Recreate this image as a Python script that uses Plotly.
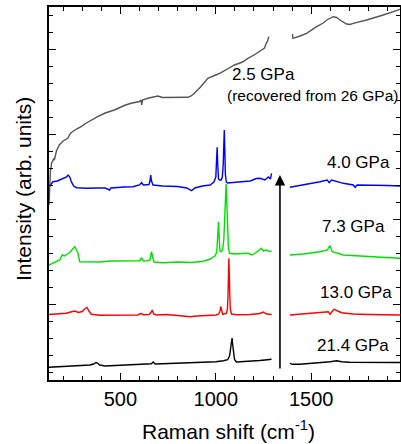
import plotly.graph_objects as go

# ---------------- data (Raman shift in cm^-1, intensity in arb. units, stacked offsets) -------------
x_214 = [126, 160, 200, 250, 300, 340, 360, 372, 380, 392, 420, 460, 520, 580, 640, 662, 672, 682, 720, 800,
         880, 950, 1000, 1040, 1062, 1072, 1078, 1082, 1085, 1088, 1092, 1098, 1108, 1140, 1180, 1230, 1270, 1292,
         None, 1388, 1402, 1440, 1500, 1560, 1600, 1633, 1660, 1700, 1800, 1900, 1965]
y_214 = [21.7, 22, 22.3, 22.8, 23.5, 24, 25, 26.5, 26, 24, 23, 23.3, 23.8, 24.3, 24.8, 25.3, 27, 25, 25.2, 25.8,
         26.3, 26.8, 27.3, 28.3, 29.3, 33, 40, 47, 51, 45, 36, 29.5, 27, 27.3, 27.8, 28.5, 29.3, 29.8,
         None, 25.7, 24.7, 24.7, 25.5, 26.5, 27.3, 28.3, 27.3, 26.8, 26.7, 26.5, 26.5]

x_130 = [126, 170, 215, 240, 261, 280, 300, 315, 325, 335, 348, 392, 450, 520, 590, 608, 620, 650, 660, 667,
         674, 690, 740, 800, 864, 900, 960, 1000, 1015, 1022, 1026, 1030, 1036, 1055, 1061, 1064, 1067, 1068.5,
         1070, 1073, 1076, 1082, 1110, 1180, 1230, 1249, 1265, 1292,
         None, 1388, 1420, 1476, 1563, 1589, 1598, 1619, 1659, 1720, 1800, 1900, 1965]
y_130 = [74.5, 75, 75.7, 77, 78, 76.5, 77.5, 80.5, 81.5, 78, 74.7, 73.7, 74, 74.2, 74, 75.5, 74.3, 74.5, 76.5, 79,
         75, 74, 74.5, 73.5, 72.3, 73, 73.5, 74, 75, 78, 82.5, 78, 74.5, 75.5, 80, 95, 120, 130.7,
         120, 95, 80, 75, 74.3, 74.5, 75.5, 77, 75, 74.5,
         None, 74, 74.5, 75, 76.3, 77.3, 74.7, 79.7, 76.3, 75, 74.5, 74.2, 74]

x_73 = [126, 147, 165, 182, 195, 208, 222, 235, 250, 261, 270, 278, 287, 330, 392, 450, 520, 580, 602, 611,
        620, 640, 655, 663, 670, 675, 724, 800, 870, 930, 970, 995, 1005, 1010, 1014, 1018, 1022, 1028, 1036, 1042,
        1047, 1051, 1054, 1057, 1061, 1066, 1072, 1100, 1140, 1168, 1190, 1215, 1238, 1250, 1265, 1280, 1292,
        None, 1388, 1458, 1546, 1584, 1598, 1610, 1668, 1740, 1808, 1890, 1965]
y_73 = [124, 125.7, 127, 129, 134, 133, 135, 136.5, 140, 142.3, 139, 135.7, 127.3, 127, 127, 128, 128, 127.8, 128.3, 131.3,
        128, 128.3, 129, 137.3, 129, 127, 126.3, 127, 126.5, 127.5, 130, 133, 137, 150, 167.3, 150, 138, 137.3, 139, 150,
        175, 200, 205, 190, 160, 142, 135.7, 135, 135.5, 135.7, 134, 137, 140.7, 138, 139, 137.5, 138,
        None, 134, 135, 137.3, 139, 143.3, 137.3, 134, 133, 132.3, 131.5, 130.7]

x_40 = [126, 147, 170, 191, 208, 218, 226, 235, 243, 255, 270, 322, 380, 420, 444, 450, 520, 566, 600, 611,
        620, 650, 655, 659, 663, 671, 720, 800, 847, 873, 890, 930, 970, 990, 1000, 1004, 1007, 1010, 1014, 1020,
        1028, 1034, 1039, 1042, 1044.5, 1047, 1050, 1055, 1062, 1074, 1120, 1180, 1212, 1231, 1257, 1275, 1286, 1292,
        None, 1388, 1458, 1546, 1584, 1594, 1607, 1668, 1720, 1730, 1740, 1808, 1900, 1965]
y_40 = [202.3, 207.3, 208, 209.7, 210.7, 212, 214, 212, 207.3, 203, 201.3, 200.7, 201, 201, 199, 201, 202, 202.3, 204, 206.3,
        204, 204.5, 208, 214, 208, 204, 203, 202.5, 201, 198.3, 201, 203, 204, 207, 212, 225, 241.7, 225, 210, 209,
        209, 212, 225, 245, 259, 240, 215, 207, 206, 206.3, 207, 208, 210.5, 210.7, 209, 212, 210, 215.7,
        None, 201.7, 204, 207.3, 209, 206.3, 209, 205.7, 204, 201.7, 204, 204, 203.5, 203]

x_25 = [126, 128, 133, 140, 150, 154, 165, 180, 189, 200, 224, 240, 270, 294, 322, 340, 381, 420, 469, 520,
        556, 600, 608, 612, 616, 644, 680, 696, 720, 748, 800, 853, 871, 888, 920, 958, 1000, 1028, 1060, 1098,
        1140, 1168, 1200, 1238, 1255, 1264, 1272, 1277,
        None, 1402, 1404, 1441, 1476, 1528, 1563, 1581, 1600, 1615, 1633, 1650, 1685, 1703, 1720, 1790, 1877, 1965]
y_25 = [184, 204, 217, 226, 230, 229, 238, 244, 246, 248, 250.7, 256, 260, 262.3, 266, 268, 272.3, 276, 279, 283.5,
        285.7, 287.5, 289, 284, 289, 290.7, 292, 293, 291.5, 291.7, 291.5, 291.7, 293, 295.7, 302, 310.7, 314, 316.3, 320, 324,
        327, 330.7, 334, 339, 341, 345.7, 348, 352.3,
        None, 355, 350.7, 353, 355.7, 362.3, 366, 369, 371, 372.3, 371.5, 369, 365, 364.5, 365.7, 369, 374, 379.7]

labels = ["21.4 GPa", "13.0 GPa", "7.3 GPa", "4.0 GPa", "2.5 GPa"]
label_x = [1719, 1732, 1719, 1745, 1249]
label_y = [44, 97, 163, 227, 314.5]
note_text = "(recovered from 26 GPa)"
note_x, note_y = 1509, 294
arrow_x, arrow_y0, arrow_y1 = 1336, 19, 214

FONT = "Liberation Sans, Arial, sans-serif"

series = [
    (x_214, y_214, "#000000", "21.4 GPa"),
    (x_130, y_130, "#ff0000", "13.0 GPa"),
    (x_73, y_73, "#00e000", "7.3 GPa"),
    (x_40, y_40, "#0000ff", "4.0 GPa"),
    (x_25, y_25, "#555555", "2.5 GPa"),
]

fig = go.Figure()
for xs, ys, col, name in series:
    fig.add_trace(go.Scatter(x=xs, y=ys, mode="lines", name=name,
                             line=dict(color=col, width=1.4), connectgaps=False,
                             showlegend=False))

ann = []
for t, x, y in zip(labels, label_x, label_y):
    ann.append(dict(x=x, y=y, xref="x", yref="y", text=t, showarrow=False,
                    font=dict(family=FONT, size=17, color="black"),
                    xanchor="center", yanchor="middle"))
ann.append(dict(x=note_x, y=note_y, xref="x", yref="y", text=note_text, showarrow=False,
                font=dict(family=FONT, size=15.5, color="black"),
                xanchor="center", yanchor="middle"))
ann.append(dict(x=arrow_x, y=arrow_y1, ax=arrow_x, ay=arrow_y0, xref="x", yref="y",
                axref="x", ayref="y", text="", showarrow=True, arrowhead=2,
                arrowsize=1.3, arrowwidth=1.6, arrowcolor="black"))
# axis titles (placed as paper annotations for exact positioning)
ann.append(dict(x=0.51, y=-0.134, xref="paper", yref="paper", text="Raman shift (cm<sup>-1</sup>)",
                showarrow=False, xanchor="center", yanchor="middle",
                font=dict(family=FONT, size=21, color="black")))
ann.append(dict(x=-0.074, y=0.512, xref="paper", yref="paper", text="Intensity (arb. units)",
                showarrow=False, xanchor="center", yanchor="middle", textangle=-90,
                font=dict(family=FONT, size=21, color="black")))

fig.update_layout(
    width=401, height=444,
    margin=dict(l=49, r=1, t=7, b=64, autoexpand=False),
    plot_bgcolor="white", paper_bgcolor="white",
    font=dict(family=FONT, size=20, color="black"),
    annotations=ann,
)

fig.update_xaxes(range=[126, 1965], showgrid=False, zeroline=False, automargin=False,
                 showline=True, linecolor="black", linewidth=1.6, mirror="ticks",
                 ticks="inside", ticklen=7, tickwidth=1.4, tickcolor="black",
                 tick0=0, dtick=500, tickfont=dict(family=FONT, size=20),
                 minor=dict(ticks="inside", dtick=100, tick0=0, ticklen=4, tickwidth=1.4, tickcolor="black"))
fig.update_yaxes(range=[9, 382], showgrid=False, zeroline=False, automargin=False,
                 showline=True, linecolor="black", linewidth=1.6, mirror="ticks",
                 ticks="inside", ticklen=7, tickwidth=1.4, tickcolor="black",
                 tick0=0, dtick=85, showticklabels=False,
                 minor=dict(ticks="inside", dtick=17, tick0=0, ticklen=4, tickwidth=1.4, tickcolor="black"))

fig.write_html("out.html", config={"displayModeBar": False},
               post_script="document.body.style.margin='0';document.body.style.overflow='hidden';")
